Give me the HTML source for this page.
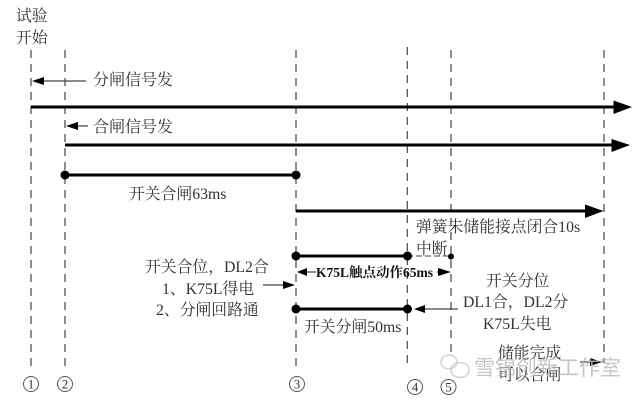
<!DOCTYPE html>
<html><head><meta charset="utf-8"><style>
html,body{margin:0;padding:0;background:#fff}
svg{display:block}
text{font-family:"Liberation Serif","Noto Serif CJK SC",serif;fill:#333;font-size:15.8px}
</style></head><body>
<svg width="640" height="400" viewBox="0 0 640 400" xmlns="http://www.w3.org/2000/svg">
<g stroke="#444" stroke-width="1.2" stroke-dasharray="8 6" fill="none">
<path d="M31 50V368M65 50V368M296 50V368M407.300 47V365M451 50V357M604 50V363"/>
</g>
<g stroke="#000" fill="none">
<path d="M31 107H616M65 145H614" stroke-width="3"/>
<path d="M65 175H296M296 211H588M296 256H407M296 309H407" stroke-width="3"/>
<path d="M407 256H451" stroke="#444" stroke-width="1" stroke-dasharray="6 3"/>
<path d="M40 81H86M72 126H88M306 272H316M437 272H444M263 285H288M416 309H458M580 362H596" stroke="#444" stroke-width="1.200"/>
</g>
<g fill="#000">
<path d="M613.500 100.500L632 107L613.500 114ZM611.500 139L630 145L611.500 152ZM585 204.500L603.500 211L585 218Z"/>
<path d="M32 81L44 77V85ZM66 126L78 122V130ZM297 272L307 268V276ZM451 272L438 268V276ZM295 285L283 281V289ZM414 309L425 305V313ZM602 362L590 358V366Z"/>
<circle cx="65" cy="175" r="4.500"/><circle cx="296" cy="175" r="4.500"/>
<circle cx="296" cy="256" r="4.500"/><circle cx="407.500" cy="256" r="4.500"/><circle cx="451" cy="256.500" r="3"/>
<circle cx="296" cy="309" r="4.500"/><circle cx="407.500" cy="309" r="4.500"/>
</g>
<text x="16" y="21">试验</text>
<text x="16" y="43">开始</text>
<text x="93" y="85" style="font-size:16px">分闸信号发</text>
<text x="93" y="132" style="font-size:16px">合闸信号发</text>
<text x="129" y="199">开关合闸63ms</text>
<text x="416" y="232">弹簧未储能接点闭合10s</text>
<text x="416" y="254">中断</text>
<text x="145" y="272">开关合位，DL2合</text>
<text x="162" y="294">1、K75L得电</text>
<text x="156" y="315">2、分闸回路通</text>
<text x="316" y="277" style="font-size:13.5px;font-weight:bold;fill:#111">K75L触点动作65ms</text>
<text x="304" y="332">开关分闸50ms</text>
<text x="486" y="286">开关分位</text>
<text x="463" y="307">DL1合，DL2分</text>
<text x="483" y="329">K75L失电</text>
<text x="498" y="358">储能完成</text>
<text x="498" y="380">可以合闸</text>
<g style="opacity:.3" stroke="#666" fill="none" stroke-width="1.500">
<ellipse cx="449" cy="362" rx="8" ry="7"/><ellipse cx="460" cy="370" rx="9" ry="7.500"/>
</g>
<text x="474" y="375" style="font-size:21px;fill:#bbb;font-family:'Liberation Sans','Noto Sans CJK SC',sans-serif;opacity:.85">雪锦创新工作室</text>
<g style="font-size:15px;fill:#333">
<circle cx="31" cy="384" r="7.500" fill="none" stroke="#555"/><circle cx="65" cy="384" r="7.500" fill="none" stroke="#555"/>
<circle cx="297" cy="384" r="7.500" fill="none" stroke="#555"/><circle cx="415" cy="387" r="7.500" fill="none" stroke="#555"/><circle cx="448.500" cy="387" r="7.500" fill="none" stroke="#555"/>
<text x="31" y="388.500" text-anchor="middle" style="font-size:13px">1</text>
<text x="65" y="388.500" text-anchor="middle" style="font-size:13px">2</text>
<text x="297" y="388.500" text-anchor="middle" style="font-size:13px">3</text>
<text x="415" y="391.500" text-anchor="middle" style="font-size:13px">4</text>
<text x="448.500" y="391.500" text-anchor="middle" style="font-size:13px">5</text>
</g>
</svg>
</body></html>
